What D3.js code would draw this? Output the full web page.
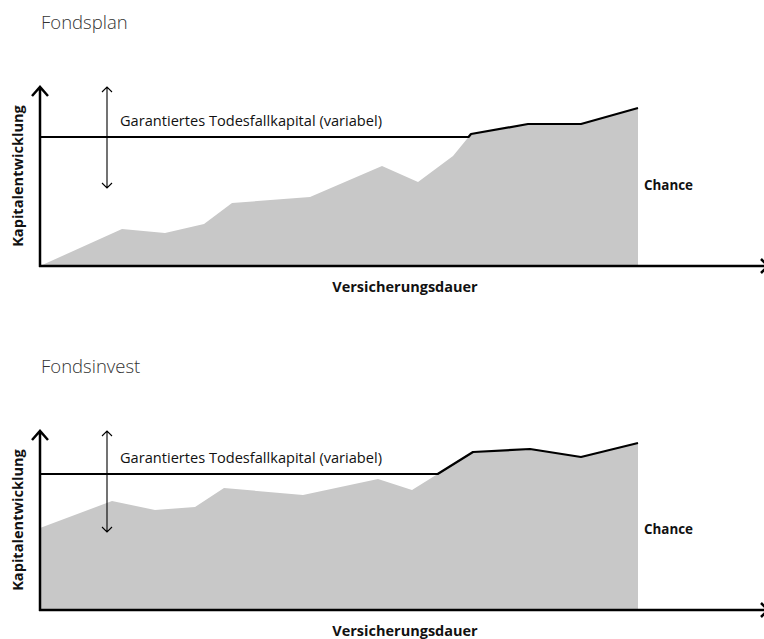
<!DOCTYPE html>
<html>
<head>
<meta charset="utf-8">
<script src="https://cdn.jsdelivr.net/npm/d3@7"></script>
<style>
  body { margin: 0; background: #fff; }
  svg text { font-family: 'Segoe UI', 'Open Sans', sans-serif; }
</style>
</head>
<body>
<svg id="chart" width="764" height="639"></svg>
<script>
// Fondsplan panel
const fondsplanT = [0, 4.1, 6.25, 8.2, 9.6, 13.5, 17.1, 18.9, 20.65, 21.55, 24.4, 27.05, 29.9];
const fondsplanV = [0, 37, 33, 42, 63, 69, 100, 84, 110, 132, 142, 142, 158];
const fondsplanGarantie = 129;

// Fondsinvest panel
const fondsinvestT = [0, 3.6, 5.75, 7.75, 9.2, 13.15, 16.9, 18.6, 21.65, 24.5, 27.05, 29.9];
const fondsinvestV = [82, 109, 100, 103, 122, 115, 131, 120, 158, 161, 153, 167];
const fondsinvestGarantie = 136;

const titles = ['Fondsplan', 'Fondsinvest'];
const yLabel = 'Kapitalentwicklung';
const xLabel = 'Versicherungsdauer';
const garantieLabel = 'Garantiertes Todesfallkapital (variabel)';
const chanceLabel = 'Chance';

const panels = [
  {title: titles[0], t: fondsplanT, v: fondsplanV, g: fondsplanGarantie, dy: 0},
  {title: titles[1], t: fondsinvestT, v: fondsinvestV, g: fondsinvestGarantie, dy: 344}
];

const svg = d3.select('#chart');

const x = d3.scaleLinear().domain([0, 36]).range([40, 760]);
const y = d3.scaleLinear().domain([0, 180]).range([266, 86]);

// line along the guarantee until the fund value passes it, then along the fund value
function envelope(t, v, g)
{
  var pts = [[t[0], g]];
  for (let i = 1; i < t.length; i++) {
    if (v[i - 1] <= g && v[i] > g) {
      var tc = t[i - 1] + (t[i] - t[i - 1]) * (g - v[i - 1]) / (v[i] - v[i - 1]);
      pts.push([tc, g]);
      for (let j = i; j < t.length; j++) pts.push([t[j], v[j]]);
      return pts;
    }
  }
  pts.push([t[t.length - 1], g]);
  return pts;
}

panels.forEach(p => {
  var g = svg.append('g').attr('transform', 'translate(0,' + p.dy + ')');

  g.append('text')
    .attr('x', 41).attr('y', 29)
    .attr('font-size', 18.5).attr('font-weight', 300)
    .attr('fill', '#333')
    .text(p.title);

  var data = p.t.map((t, i) => ({t: t, v: p.v[i]}));

  var area = d3.area()
    .x(d => x(d.t))
    .y0(y(0))
    .y1(d => y(d.v));

  g.append('path')
    .datum(data)
    .attr('fill', '#c8c8c8')
    .attr('d', area);

  g.append('path')
    .datum(envelope(p.t, p.v, p.g))
    .attr('fill', 'none')
    .attr('stroke', '#000')
    .attr('stroke-width', 2.2)
    .attr('stroke-linejoin', 'round')
    .attr('d', d3.line().x(d => x(d[0])).y(d => y(d[1])));

  // axes with arrow heads
  var x0 = x(0), y0 = y(0), yTop = y(180);
  g.append('path')
    .attr('fill', 'none').attr('stroke', '#000').attr('stroke-width', 2.5)
    .attr('d', 'M' + x0 + ',' + (y0 + 1) + 'V' + (yTop + 1)
      + 'M' + (x0 - 8) + ',' + (yTop + 10) + 'L' + x0 + ',' + (yTop + 1) + 'L' + (x0 + 8) + ',' + (yTop + 10));
  g.append('path')
    .attr('fill', 'none').attr('stroke', '#000').attr('stroke-width', 2.5)
    .attr('d', 'M' + (x0 - 1) + ',' + y0 + 'H766'
      + 'M761,' + (y0 - 7) + 'L768,' + y0 + 'L761,' + (y0 + 7));

  // double arrow
  var ax = x(3.35), a1 = y(179), a2 = y(78);
  g.append('path')
    .attr('fill', 'none').attr('stroke', '#000').attr('stroke-width', 1.1)
    .attr('d', 'M' + ax + ',' + a1 + 'V' + a2
      + 'M' + (ax - 5) + ',' + (a1 + 5) + 'L' + ax + ',' + a1 + 'L' + (ax + 5) + ',' + (a1 + 5)
      + 'M' + (ax - 5) + ',' + (a2 - 5) + 'L' + ax + ',' + a2 + 'L' + (ax + 5) + ',' + (a2 - 5));

  g.append('text')
    .attr('x', 120).attr('y', y(p.g) - 11)
    .attr('font-size', 14.6).attr('fill', '#111')
    .text(garantieLabel);

  g.append('text')
    .attr('x', 644).attr('y', 190)
    .attr('font-size', 13.4).attr('font-weight', 'bold').attr('fill', '#111')
    .text(chanceLabel);

  g.append('text')
    .attr('x', 405).attr('y', 292)
    .attr('text-anchor', 'middle')
    .attr('font-size', 14.5).attr('font-weight', 'bold').attr('fill', '#111')
    .text(xLabel);

  g.append('text')
    .attr('transform', 'translate(23,176) rotate(-90)')
    .attr('text-anchor', 'middle')
    .attr('font-size', 14.6).attr('font-weight', 'bold').attr('fill', '#111')
    .text(yLabel);
});
</script>
</body>
</html>
